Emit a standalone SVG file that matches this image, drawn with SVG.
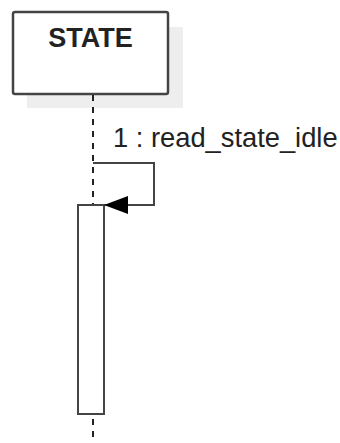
<svg xmlns="http://www.w3.org/2000/svg" width="340" height="443" viewBox="0 0 340 443">
<style>
.lbl{font-family:"Liberation Sans",Arial,sans-serif;fill:#222}
.line{fill:none;stroke:#444;stroke-width:2}
</style>
<defs>
<marker id="arr" markerUnits="userSpaceOnUse" markerWidth="24" markerHeight="18" refX="24" refY="9" orient="auto" viewBox="0 0 24 18">
<path d="M24,9 L0,0 L0,18 Z" fill="#000"/>
</marker>
</defs>
<rect width="340" height="443" fill="#fff"/>
<g id="STATE">
<rect x="27" y="27" width="156" height="81" fill="#eeeeee"/>
<rect x="13" y="12" width="155" height="82" rx="2" fill="#fff" stroke="#444" stroke-width="2.5"/>
<text class="lbl" x="90.5" y="47" font-size="27" font-weight="bold" text-anchor="middle">STATE</text>
</g>
<g id="lifeline">
<line x1="93" y1="95" x2="93" y2="443" stroke="#222" stroke-width="2" stroke-dasharray="6 6"/>
</g>
<g id="activation">
<rect x="78" y="205" width="26" height="209" fill="#fff" stroke="#444" stroke-width="2"/>
</g>
<g id="connectors">
<path class="line" d="M93,163 H154 V205 H104" marker-end="url(#arr)"/>
<text class="lbl" x="113" y="147" font-size="27.3" fill="#555">1 : read_state_idle</text>
</g>
</svg>
